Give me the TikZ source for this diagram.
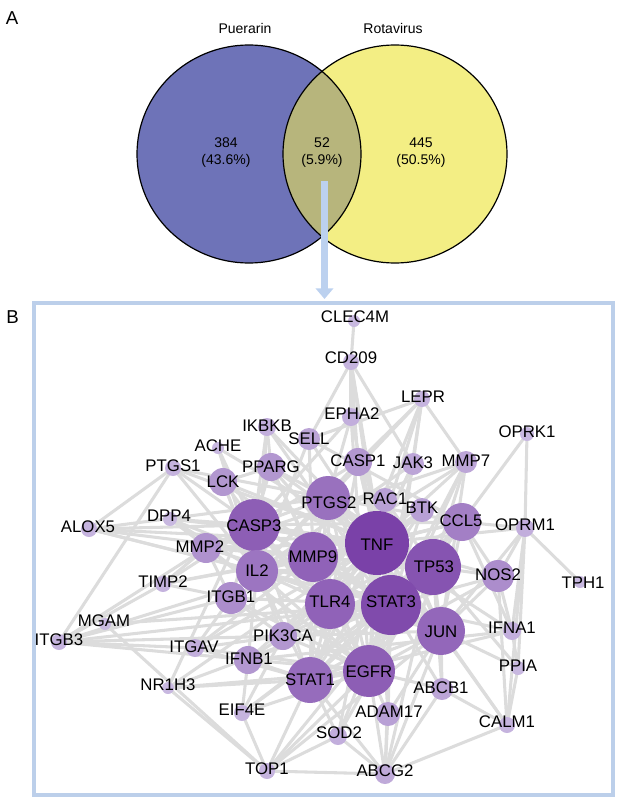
\documentclass[tikz,border=0pt]{standalone}
\usepackage{fontspec}
\setmainfont{Liberation Sans}
\usetikzlibrary{arrows.meta}
\definecolor{vblue}{HTML}{6E73B8}
\definecolor{vyellow}{HTML}{F3EE84}
\definecolor{vmid}{HTML}{B7B57C}
\definecolor{arrblue}{HTML}{BCD1EF}
\definecolor{boxblue}{HTML}{BCCFEA}
\definecolor{edgegray}{HTML}{DCDCDC}
\definecolor{ltp}{HTML}{C8B8E0}
\definecolor{dkp}{HTML}{7A41A8}
\begin{document}
\begin{tikzpicture}[x=0.75pt,y=-0.75pt,
  edge/.style={draw=edgegray,line width=2.3pt},
  glabel/.style={font=\fontsize{12.6}{14}\selectfont,text=black,inner sep=0pt},
  vlabel/.style={font=\fontsize{10.5}{12.75}\selectfont,text=black,inner sep=0pt,align=center},
  panel/.style={font=\fontsize{14}{16}\selectfont,text=black,inner sep=0pt}]
\useasboundingbox (0,0) rectangle (619,810);
% ---------- Panel A: Venn ----------
\node[panel] (A) at (12,18) {A};
\coordinate (L) at (249,154);
\coordinate (R) at (395,154);
\fill[vblue] (L) ellipse[x radius=112,y radius=109];
\fill[vyellow] (R) ellipse[x radius=112,y radius=109];
\begin{scope}
  \clip (L) ellipse[x radius=112,y radius=109];
  \fill[vmid] (R) ellipse[x radius=112,y radius=109];
\end{scope}
\draw[black,line width=0.9pt] (L) ellipse[x radius=112,y radius=109];
\draw[black,line width=0.9pt] (R) ellipse[x radius=112,y radius=109];
\node[vlabel] (puer) at (245,28) {Puerarin};
\node[vlabel] (rota) at (393,28) {Rotavirus};
\node[vlabel] (nl) at (226,152.5) {384\\(43.6\%)};
\node[vlabel] (nm) at (322,152.5) {52\\(5.9\%)};
\node[vlabel] (nr) at (421,152.5) {445\\(50.5\%)};
% ---------- arrow ----------
\coordinate (arrS) at (324.5,181);
\coordinate (arrE) at (324.5,299);
\draw[arrblue,line width=5.2pt,-{Triangle[length=8pt,width=13pt]}] (arrS) -- (arrE);
% ---------- Panel B: box ----------
\draw[boxblue,line width=3pt] (33.5,303) rectangle (613,795);
\node[panel] (B) at (12.5,317) {B};
% ---------- network nodes ----------
\foreach \n/\x/\y/\r/\tx/\ty in {
CLEC4M/354/321/6/355/317, CD209/351/362/8/351/358, LEPR/422/399/8/423/397,
EPHA2/351/417/9/352/414, IKBKB/267/427/9/267/426, SELL/309/439/11/309/439,
ACHE/218/448/6/218/446, OPRK1/527/434/7/527/432, PTGS1/173/468/8/173/466,
PPARG/271/467/14/271/467, CASP1/358/462/14/358/461, JAK3/413/464/11/413/463,
MMP7/466/462/11/466/461, LCK/223/482/14/223/482, PTGS2/328/498/22/329/503,
RAC1/385/500/12/385/499, BTK/422/510/12/422/508, CCL5/462/522/19/461/521,
OPRM1/525/528/9/525/525, ALOX5/89/529/8/88/527, DPP4/170/519/7/169/516,
CASP3/254/525/26/254/526, MMP2/206/548/15/200/547, TNF/377/543/32/377/545,
MMP9/313/557/25/313/557, TP53/433/567/28/434/567, NOS2/498/576/16/498/575,
TPH1/580/582/6/583/583, IL2/257/571/21/257/571, TIMP2/163/584/8/163/582,
ITGB1/231/598/16/231/597, TLR4/330/604/25/330/602, STAT3/391/605/30/391/602,
JUN/441/631/24/441/632, IFNA1/512/631/9/512/628, MGAM/105/624/6/104/621,
ITGB3/59/642/8/59/640, ITGAV/195/648/9/194/647, PIK3CA/283/636/14/283/636,
PPIA/518/668/7/518/666, IFNB1/248/660/14/249/659, STAT1/310/680/23/310/680,
EGFR/369/671/26/369/672, NR1H3/168/688/6/168/685, ABCB1/442/689/11/441/688,
EIF4E/242/713/8/242/710, ADAM17/388/714/12/389/712, CALM1/507/725/8/507/722,
SOD2/338/736/9/339/733, TOP1/267/771/8/267/769, ABCG2/385/774/10/385/771}
{ \coordinate (\n) at (\x,\y); }
% ---------- edges ----------
\foreach \a/\b in {
TNF/STAT3,TNF/EGFR,TNF/TP53,TNF/CASP3,TNF/JUN,TNF/MMP9,TNF/TLR4,TNF/IL2,TNF/PTGS2,TNF/STAT1,TNF/CCL5,
STAT3/EGFR,STAT3/TP53,STAT3/CASP3,STAT3/JUN,STAT3/MMP9,STAT3/TLR4,STAT3/IL2,STAT3/PTGS2,STAT3/STAT1,STAT3/CCL5,
EGFR/TP53,EGFR/CASP3,EGFR/JUN,EGFR/MMP9,EGFR/TLR4,EGFR/IL2,EGFR/PTGS2,EGFR/STAT1,EGFR/CCL5,
TP53/CASP3,TP53/JUN,TP53/MMP9,TP53/TLR4,TP53/IL2,TP53/PTGS2,TP53/STAT1,TP53/CCL5,
CASP3/JUN,CASP3/MMP9,CASP3/TLR4,CASP3/IL2,CASP3/PTGS2,CASP3/STAT1,CASP3/CCL5,
JUN/MMP9,JUN/TLR4,JUN/IL2,JUN/PTGS2,JUN/STAT1,JUN/CCL5,
MMP9/TLR4,MMP9/IL2,MMP9/PTGS2,MMP9/STAT1,MMP9/CCL5,
TLR4/IL2,TLR4/PTGS2,TLR4/STAT1,TLR4/CCL5,IL2/PTGS2,IL2/STAT1,IL2/CCL5,
PTGS2/STAT1,PTGS2/CCL5,STAT1/CCL5,
CLEC4M/CD209,CD209/EPHA2,CD209/SELL,CD209/CASP1,CD209/TNF,CD209/JAK3,CD209/STAT3,
LEPR/JAK3,LEPR/MMP7,LEPR/STAT3,LEPR/TNF,LEPR/PTGS2,LEPR/SELL,LEPR/CASP1,LEPR/STAT1,
EPHA2/EGFR,EPHA2/CASP3,EPHA2/STAT3,EPHA2/PTGS2,
IKBKB/TNF,IKBKB/STAT3,IKBKB/PPARG,IKBKB/CASP3,IKBKB/IL2,
SELL/TNF,SELL/CCL5,SELL/IL2,SELL/MMP9,ACHE/CASP3,ACHE/TNF,ACHE/IL2,
OPRK1/OPRM1,OPRK1/CCL5,
PTGS1/PTGS2,PTGS1/CASP3,PTGS1/TNF,PTGS1/ITGB3,PTGS1/ALOX5,PTGS1/IL2,
PPARG/TNF,PPARG/STAT3,PPARG/CASP3,PPARG/PTGS2,PPARG/MMP9,PPARG/LCK,PPARG/EGFR,
CASP1/TNF,CASP1/CASP3,CASP1/IL2,CASP1/STAT3,CASP1/TLR4,CASP1/JUN,
JAK3/STAT3,JAK3/STAT1,JAK3/IL2,JAK3/TNF,JAK3/EGFR,
MMP7/MMP9,MMP7/TNF,MMP7/TP53,MMP7/JUN,MMP7/EGFR,MMP7/MMP2,MMP7/STAT3,
LCK/IL2,LCK/STAT3,LCK/EGFR,LCK/PIK3CA,LCK/TNF,
RAC1/EGFR,RAC1/PIK3CA,RAC1/TP53,RAC1/STAT3,RAC1/JUN,
BTK/TLR4,BTK/TNF,BTK/STAT3,BTK/STAT1,BTK/PIK3CA,
OPRM1/TPH1,OPRM1/IFNA1,OPRM1/NOS2,OPRM1/CALM1,OPRM1/TNF,OPRM1/JUN,OPRM1/CCL5,OPRM1/PPIA,
ALOX5/CASP3,ALOX5/PTGS2,ALOX5/TNF,ALOX5/IL2,ALOX5/STAT3,ALOX5/MMP9,
DPP4/TNF,DPP4/IL2,DPP4/CASP3,DPP4/STAT3,DPP4/EGFR,
MMP2/MMP9,MMP2/TIMP2,MMP2/CASP3,MMP2/EGFR,MMP2/TNF,MMP2/ITGB1,MMP2/ITGB3,MMP2/STAT3,MMP2/TP53,
NOS2/TNF,NOS2/STAT3,NOS2/TP53,NOS2/JUN,NOS2/CCL5,NOS2/IFNA1,NOS2/CALM1,NOS2/STAT1,
TIMP2/MMP9,TIMP2/CASP3,TIMP2/ITGB1,TIMP2/ITGB3,TIMP2/TNF,
ITGB1/ITGB3,ITGB1/ITGAV,ITGB1/EGFR,ITGB1/PIK3CA,ITGB1/MMP9,ITGB1/CASP3,ITGB1/STAT3,
IFNA1/STAT1,IFNA1/STAT3,IFNA1/TNF,IFNA1/CCL5,IFNA1/PPIA,IFNA1/IFNB1,
MGAM/TOP1,MGAM/STAT3,
ITGB3/ITGAV,ITGB3/PIK3CA,ITGB3/EGFR,ITGB3/STAT3,ITGB3/TNF,
ITGAV/PIK3CA,ITGAV/EGFR,ITGAV/STAT1,ITGAV/TNF,ITGAV/MMP9,
PIK3CA/EGFR,PIK3CA/STAT3,PIK3CA/TP53,PIK3CA/JUN,PIK3CA/TNF,
PPIA/TP53,PPIA/CALM1,PPIA/JUN,
IFNB1/STAT1,IFNB1/STAT3,IFNB1/TNF,IFNB1/IL2,IFNB1/EIF4E,IFNB1/TLR4,
NR1H3/TNF,NR1H3/STAT3,NR1H3/TOP1,NR1H3/EGFR,NR1H3/PPARG,NR1H3/STAT1,
ABCB1/ABCG2,ABCB1/TP53,ABCB1/EGFR,ABCB1/STAT3,ABCB1/CALM1,ABCB1/JUN,
EIF4E/EGFR,EIF4E/STAT3,EIF4E/TOP1,EIF4E/PIK3CA,EIF4E/TP53,
ADAM17/EGFR,ADAM17/TNF,ADAM17/ABCG2,ADAM17/STAT3,ADAM17/JUN,
CALM1/TNF,CALM1/JUN,CALM1/ABCG2,
SOD2/TNF,SOD2/STAT3,SOD2/ABCG2,SOD2/TOP1,SOD2/TP53,SOD2/STAT1,
TOP1/ABCG2,TOP1/EGFR,TOP1/TP53,TOP1/STAT1,TOP1/JUN,
ABCG2/EGFR,ABCG2/STAT3,ABCG2/TP53,ABCG2/JUN,ABCG2/STAT1}
{ \draw[edge] (\a) -- (\b); }
% ---------- node circles ----------
\foreach \n/\r in {
CLEC4M/6,CD209/8,LEPR/8,EPHA2/9,IKBKB/9,SELL/11,ACHE/6,OPRK1/7,PTGS1/8,PPARG/14,
CASP1/14,JAK3/11,MMP7/11,LCK/14,PTGS2/22,RAC1/12,BTK/12,CCL5/19,OPRM1/9,ALOX5/8,
DPP4/7,CASP3/26,MMP2/15,TNF/32,MMP9/25,TP53/28,NOS2/16,TPH1/6,IL2/21,TIMP2/8,
ITGB1/16,TLR4/25,STAT3/30,JUN/24,IFNA1/9,MGAM/6,ITGB3/8,ITGAV/9,PIK3CA/14,PPIA/7,
IFNB1/14,STAT1/23,EGFR/26,NR1H3/6,ABCB1/11,EIF4E/8,ADAM17/12,CALM1/8,SOD2/9,TOP1/8,ABCG2/10}
{ \pgfmathtruncatemacro\pct{min(100,max(0,(\r-7)*4))}
  \fill[fill={dkp!\pct!ltp}] (\n) circle[radius=\r]; }
% ---------- labels ----------
\foreach \n/\tx/\ty in {
CLEC4M/355/317, CD209/351/358, LEPR/423/397, EPHA2/352/414, IKBKB/267/426, SELL/309/439,
ACHE/218/446, OPRK1/527/432, PTGS1/173/466, PPARG/271/467, CASP1/358/461, JAK3/413/463,
MMP7/466/461, LCK/223/482, PTGS2/329/503, RAC1/385/499, BTK/422/508, CCL5/461/521,
OPRM1/525/525, ALOX5/88/527, DPP4/169/516, CASP3/254/526, MMP2/200/547, TNF/377/545,
MMP9/313/557, TP53/434/567, NOS2/498/575, TPH1/583/583, IL2/257/571, TIMP2/163/582,
ITGB1/231/597, TLR4/330/602, STAT3/391/602, JUN/441/632, IFNA1/512/628, MGAM/104/621,
ITGB3/59/640, ITGAV/194/647, PIK3CA/283/636, PPIA/518/666, IFNB1/249/659, STAT1/310/680,
EGFR/369/672, NR1H3/168/685, ABCB1/441/688, EIF4E/242/710, ADAM17/389/712, CALM1/507/722,
SOD2/339/733, TOP1/267/769, ABCG2/385/771}
{ \node[glabel] (lab-\n) at (\tx,\ty) {\n}; }
\end{tikzpicture}
\end{document}
